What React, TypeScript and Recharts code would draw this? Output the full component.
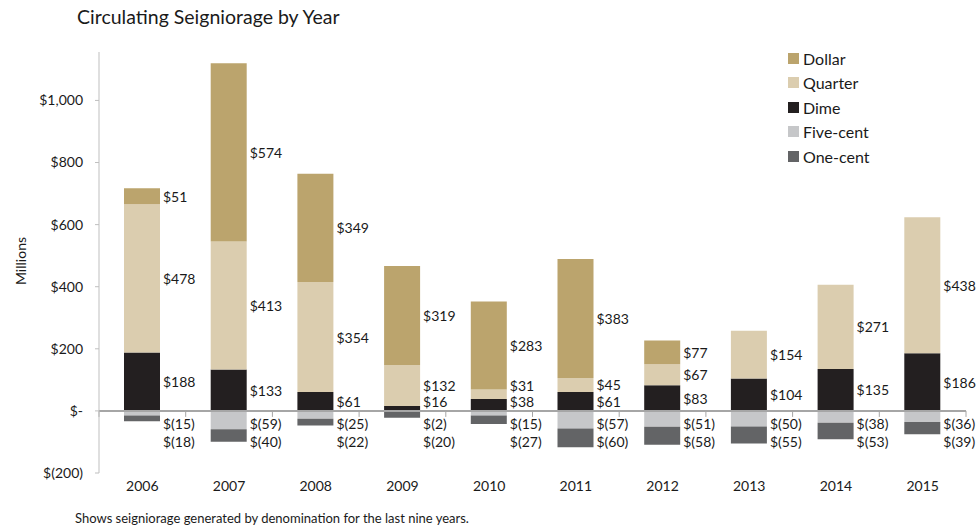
import React from "react";
import { Bar, BarChart, LabelList, ReferenceLine, XAxis, YAxis } from "recharts";

const YEARS = ["2006", "2007", "2008", "2009", "2010", "2011", "2012", "2013", "2014", "2015"];
const DOLLAR = [51, 574, 349, 319, 283, 383, 77, 0, 0, 0];
const QUARTER = [478, 413, 354, 132, 31, 45, 67, 154, 271, 438];
const DIME = [188, 133, 61, 16, 38, 61, 83, 104, 135, 186];
const FIVE_CENT = [-15, -59, -25, -2, -15, -57, -51, -50, -38, -36];
const ONE_CENT = [-18, -40, -22, -20, -27, -60, -58, -55, -53, -39];
const Y_TICKS = [-200, 0, 200, 400, 600, 800, 1000];

const FONT = "Lato, 'Open Sans', sans-serif";
const TEXT = "#1a1a1a";

const COLORS: Record<string, string> = {
  Dollar: "#bba46d",
  Quarter: "#dbcdaf",
  Dime: "#231f20",
  "Five-cent": "#c6c7c9",
  "One-cent": "#636466",
};
// stacking order: positives bottom-up, then negatives from zero down
const STACK = ["Dime", "Quarter", "Dollar", "Five-cent", "One-cent"];
const LEGEND_ORDER = ["Dollar", "Quarter", "Dime", "Five-cent", "One-cent"];

type Row = { year: string; [k: string]: number | string };

const data: Row[] = YEARS.map((year, i) => ({
  year,
  Dollar: DOLLAR[i],
  Quarter: QUARTER[i],
  Dime: DIME[i],
  "Five-cent": FIVE_CENT[i],
  "One-cent": ONE_CENT[i],
}));

const money = (v: number) =>
  v === 0 ? "$-" : v < 0 ? `$(${Math.abs(v).toLocaleString("en-US")})` : `$${v.toLocaleString("en-US")}`;

// label y for a series, pushed apart so small segments don't collide
function labelY(key: string, row: Row, zero: number, ppu: number) {
  const n = (k: string) => Number(row[k]);
  const at = (v: number) => zero - v * ppu;
  const dimeY = Math.min(at(n("Dime") / 2), zero - 9);
  if (key === "Dime") return dimeY;
  const qY = Math.min(at(n("Dime") + n("Quarter") / 2), dimeY - 16);
  if (key === "Quarter") return qY;
  const base = n("Dime") + n("Quarter");
  const dY = Math.min(at(base + n("Dollar") / 2), qY - 16);
  if (key === "Dollar") return dY;
  const fY = Math.max(at(n("Five-cent") / 2), zero + 13);
  if (key === "Five-cent") return fY;
  return Math.max(at(n("Five-cent") + n("One-cent") / 2), fY + 18);
}

function makeLabel(key: string) {
  return (props: any) => {
    const { index } = props;
    const row = data[index];
    if (!row) return null;
    const v = Number(row[key]);
    if (!v) return null;
    const vb = props.viewBox || {};
    const x = Number(props.x ?? vb.x);
    const y = Number(props.y ?? vb.y);
    const w = Number(props.width ?? vb.width);
    const h = Number(props.height ?? vb.height);
    const top = Math.min(y, y + h);
    const bottom = Math.max(y, y + h);
    const ppu = Math.abs(h) / Math.abs(v);
    let zero: number;
    if (v > 0) {
      const below = STACK.slice(0, STACK.indexOf(key)).reduce(
        (s, k) => s + Math.max(0, Number(row[k])),
        0
      );
      zero = bottom + below * ppu;
    } else {
      const below = key === "One-cent" ? Math.abs(Number(row["Five-cent"])) : 0;
      zero = top - below * ppu;
    }
    const ly = labelY(key, row, zero, ppu);
    return (
      <text
        x={x + w + 3}
        y={ly}
        dominantBaseline="central"
        fontSize={14}
        fontFamily={FONT}
        fill={TEXT}
      >
        {money(v)}
      </text>
    );
  };
}

function ZeroTicks(props: any) {
  const vb = props.viewBox || {};
  const x0 = Number(vb.x);
  const w = Number(vb.width);
  const y = Number(vb.y);
  const n = YEARS.length;
  return (
    <g>
      {Array.from({ length: n + 1 }, (_, i) => (
        <line
          key={i}
          x1={x0 + (i * w) / n}
          x2={x0 + (i * w) / n}
          y1={y}
          y2={y + 6}
          stroke="#a6a6a6"
          strokeWidth={1}
        />
      ))}
    </g>
  );
}

export default function App() {
  return (
    <div
      style={{
        position: "absolute",
        left: 0,
        top: 0,
        width: 978,
        height: 529,
        background: "#fff",
        fontFamily: FONT,
        color: TEXT,
      }}
    >
      <div style={{ position: "absolute", left: 77, top: 5, fontSize: 19.5 }}>
        Circulating Seigniorage by Year
      </div>
      <div
        style={{
          position: "absolute",
          left: 20,
          top: 261,
          fontSize: 14,
          transform: "translate(-50%, -50%) rotate(-90deg)",
          whiteSpace: "nowrap",
        }}
      >
        Millions
      </div>
      <BarChart
        width={978}
        height={529}
        data={data}
        stackOffset="sign"
        margin={{ top: 52, right: 12, bottom: 26, left: 0 }}
      >
        <XAxis
          dataKey="year"
          height={30}
          axisLine={false}
          tickLine={false}
          tick={{ fontSize: 14, fill: TEXT, fontFamily: FONT }}
        />
        <YAxis
          width={99}
          type="number"
          domain={[-200, 1156]}
          ticks={Y_TICKS}
          interval={0}
          tickFormatter={money}
          axisLine={{ stroke: "#bfbfbf" }}
          tickLine={{ stroke: "#bfbfbf" }}
          tickSize={4}
          tickMargin={12}
          tick={{ fontSize: 14, fill: TEXT, fontFamily: FONT }}
        />
        {STACK.map((key) => (
          <Bar
            key={key}
            dataKey={key}
            stackId="a"
            fill={COLORS[key]}
            barSize={36}
            isAnimationActive={false}
          >
            <LabelList dataKey={key} content={makeLabel(key)} />
          </Bar>
        ))}
        <ReferenceLine y={0} stroke="#a6a6a6" strokeWidth={2} label={<ZeroTicks />} />
      </BarChart>
      <div style={{ position: "absolute", left: 788, top: 46, fontSize: 16 }}>
        {LEGEND_ORDER.map((key) => (
          <div key={key} style={{ display: "flex", alignItems: "center", height: 24.5 }}>
            <span
              style={{
                display: "inline-block",
                width: 11,
                height: 11,
                background: COLORS[key],
                marginRight: 4,
              }}
            />
            <span>{key}</span>
          </div>
        ))}
      </div>
      <div style={{ position: "absolute", left: 75, top: 510, fontSize: 13 }}>
        Shows seigniorage generated by denomination for the last nine years.
      </div>
    </div>
  );
}
